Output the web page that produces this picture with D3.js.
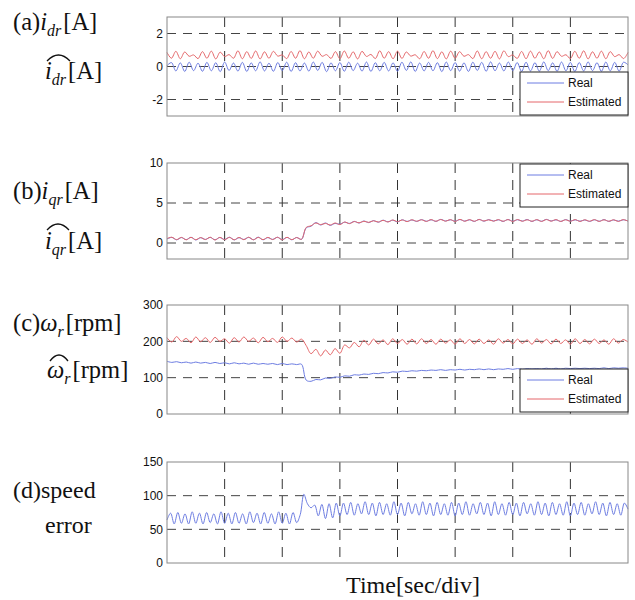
<!DOCTYPE html>
<html lang="en">
<head>
<meta charset="utf-8">
<title>Rotor current and speed estimation</title>
<script src="https://cdn.jsdelivr.net/npm/d3@7"></script>
<style>
  body { margin: 0; background: #fff; }
</style>
</head>
<body>
<svg id="chart" width="635" height="600"></svg>
<script>
  // (a) d-axis rotor current [A], 13 samples per division
  var idrReal = [0.05, 0.24, -0.27, 0.22, -0.3, 0.26, -0.25, 0.2, -0.29, 0.25, -0.26, 0.23, -0.31,
    0.27, -0.24, 0.21, -0.28, 0.25, -0.3, 0.22, -0.26, 0.28, -0.27, 0.2, -0.29, 0.24,
    -0.25, 0.26, -0.3, 0.23, -0.27, 0.21, -0.28, 0.27, -0.24, 0.25, -0.31, 0.22, -0.26,
    0.24, -0.29, 0.26, -0.25, 0.2, -0.28, 0.27, -0.3, 0.23, -0.26, 0.25, -0.27, 0.22,
    -0.29, 0.26, -0.24, 0.28, -0.3, 0.21, -0.27, 0.25, -0.26, 0.23, -0.31, 0.27, -0.25,
    0.24, -0.28, 0.22, -0.3, 0.26, -0.24, 0.25, -0.29, 0.28, -0.26, 0.21, -0.27, 0.27,
    -0.25, 0.24, -0.3, 0.26, -0.27, 0.23, -0.28, 0.28, -0.25, 0.22, -0.29, 0.27, -0.26,
    0.25, -0.3, 0.24, -0.27, 0.28, -0.25, 0.23, -0.29, 0.27, -0.26, 0.25, -0.28, 0.26, 0.1];
  var idrEst = [0.85, 0.5, 0.92, 0.47, 0.88, 0.62, 0.7, 0.48, 0.9, 0.5, 0.93, 0.46, 0.87,
    0.6, 0.72, 0.5, 0.95, 0.47, 0.9, 0.49, 0.94, 0.46, 0.89, 0.5, 0.92, 0.63,
    0.7, 0.48, 0.91, 0.5, 0.96, 0.47, 0.88, 0.5, 0.93, 0.62, 0.72, 0.49, 0.9,
    0.47, 0.94, 0.5, 0.89, 0.46, 0.92, 0.61, 0.73, 0.48, 0.95, 0.5, 0.9, 0.47,
    0.93, 0.49, 0.88, 0.63, 0.71, 0.47, 0.91, 0.5, 0.96, 0.48, 0.89, 0.46, 0.93,
    0.5, 0.9, 0.62, 0.72, 0.48, 0.94, 0.47, 0.9, 0.5, 0.92, 0.46, 0.95, 0.6,
    0.7, 0.49, 0.91, 0.47, 0.93, 0.5, 0.88, 0.47, 0.96, 0.49, 0.9, 0.62, 0.71,
    0.48, 0.92, 0.5, 0.95, 0.46, 0.89, 0.5, 0.93, 0.47, 0.9, 0.6, 0.72, 0.48, 0.85];

  // (b) q-axis rotor current [A], 12 samples per division
  var iqrReal = [0.5, 0.7, 0.4, 0.68, 0.42, 0.72, 0.38, 0.66, 0.45, 0.7, 0.4, 0.69,
    0.43, 0.72, 0.39, 0.67, 0.44, 0.7, 0.41, 0.73, 0.4, 0.68, 0.45, 0.71,
    0.42, 0.7, 0.4, 0.69, 0.45,
    1.9, 2.1, 2.55, 2.25, 2.5, 2.2, 2.45, 2.35, 2.6, 2.45, 2.7, 2.5,
    2.75, 2.55, 2.8, 2.6, 2.85, 2.65, 2.85, 2.65, 2.9, 2.7, 2.88, 2.7,
    2.92, 2.72, 2.9, 2.7, 2.95, 2.75, 2.9, 2.72, 2.93, 2.74, 2.9, 2.7,
    2.95, 2.73, 2.92, 2.75, 2.9, 2.7, 2.94, 2.72, 2.91, 2.74, 2.93, 2.7,
    2.9, 2.72, 2.95, 2.75, 2.9, 2.7, 2.92, 2.73, 2.9, 2.72, 2.88, 2.7,
    2.9, 2.72, 2.92, 2.7, 2.88, 2.73, 2.9, 2.75];
  var iqrEst = [0.55, 0.72, 0.42, 0.7, 0.4, 0.7, 0.41, 0.68, 0.43, 0.72, 0.38, 0.7,
    0.42, 0.7, 0.4, 0.69, 0.42, 0.72, 0.4, 0.7, 0.42, 0.7, 0.43, 0.72,
    0.4, 0.71, 0.42, 0.68, 0.47,
    1.95, 2.15, 2.5, 2.3, 2.45, 2.25, 2.5, 2.3, 2.62, 2.42, 2.68, 2.52,
    2.72, 2.58, 2.78, 2.62, 2.83, 2.63, 2.87, 2.67, 2.88, 2.68, 2.9, 2.72,
    2.9, 2.7, 2.92, 2.72, 2.93, 2.73, 2.92, 2.7, 2.95, 2.72, 2.92, 2.72,
    2.93, 2.75, 2.9, 2.73, 2.92, 2.72, 2.92, 2.7, 2.93, 2.72, 2.9, 2.72,
    2.92, 2.7, 2.93, 2.73, 2.92, 2.7, 2.9, 2.72, 2.92, 2.7, 2.9, 2.72,
    2.92, 2.7, 2.9, 2.72, 2.9, 2.7, 2.92, 2.73];

  // (c) rotor speed [rpm], 12 samples per division
  var wrReal = [145, 142, 144, 141, 143, 140, 143, 140, 142, 139, 142, 139,
    141, 138, 141, 138, 140, 137, 140, 137, 139, 137, 139, 136,
    139, 136, 138, 136, 137,
    93, 90, 95, 94, 99, 98, 102, 101, 105, 104, 108, 107,
    110, 109, 112, 111, 114, 113, 116, 115, 118, 117, 119, 118,
    120, 119, 121, 120, 122, 120, 122, 121, 123, 121, 123, 122,
    124, 122, 124, 122, 124, 123, 125, 123, 125, 123, 125, 124,
    125, 124, 126, 124, 126, 124, 126, 125, 126, 125, 126, 125,
    126, 125, 127, 125, 127, 126, 127, 126];
  var wrEst = [210, 198, 213, 200, 208, 196, 212, 199, 210, 197, 211, 200,
    207, 195, 210, 198, 212, 200, 209, 196, 211, 199, 208, 197,
    212, 200, 209, 198, 206,
    188, 166, 178, 160, 176, 163, 180, 167, 190, 182, 197, 185,
    203, 190, 206, 193, 204, 191, 207, 194, 205, 192, 206, 193,
    207, 194, 205, 192, 206, 195, 204, 192, 207, 194, 205, 193,
    206, 194, 204, 192, 207, 195, 205, 193, 206, 194, 204, 192,
    207, 195, 205, 193, 206, 194, 204, 192, 207, 194, 205, 193,
    206, 194, 204, 192, 207, 195, 205, 198];

  // (d) speed error, 16 samples per division
  var speedErr = [64, 74, 58, 75, 59, 73, 58, 76, 59, 74, 58, 75, 60, 73, 58, 76,
    59, 74, 58, 75, 59, 73, 58, 76, 60, 74, 58, 75, 59, 73, 58, 76,
    59, 74, 58, 75, 60, 72,
    102, 88, 82, 86, 70, 87, 66, 88, 67, 89,
    70, 89, 72, 90, 71, 88, 73, 91, 72, 89, 70, 90, 72, 88, 71, 91,
    72, 89, 70, 90, 73, 88, 71, 91, 72, 89, 70, 90, 72, 88, 71, 90,
    70, 89, 72, 91, 71, 88, 73, 90, 72, 89, 70, 91, 72, 88, 71, 90,
    72, 89, 70, 90, 73, 88, 71, 91, 72, 89, 70, 90, 72, 88, 71, 91,
    70, 89, 72, 90, 71, 88, 73, 91, 72, 89, 70, 90, 72, 88, 71, 89,
    80];

  var divisions = [1, 2, 3, 4, 5, 6, 7];
  var legendNames = ["Real", "Estimated"];
  var blue = "#6d7de2";
  var red = "#e5676a";

  var svg = d3.select("#chart");

  var x = d3.scaleLinear()
    .domain([0, 8])
    .range([167, 628]);

  var panels = [
    { top: 17, bottom: 116, domain: [-3, 3], ticks: [-2, 0, 2], grid: [-2, 0, 2],
      series: [{ values: idrReal, color: blue }, { values: idrEst, color: red }], legend: 72 },
    { top: 163, bottom: 259, domain: [-2, 10], ticks: [0, 5, 10], grid: [0, 5],
      series: [{ values: iqrReal, color: blue }, { values: iqrEst, color: red }], legend: 164 },
    { top: 305, bottom: 414, domain: [0, 300], ticks: [0, 100, 200, 300], grid: [100, 200],
      series: [{ values: wrReal, color: blue }, { values: wrEst, color: red }], legend: 369 },
    { top: 462, bottom: 563, domain: [0, 150], ticks: [0, 50, 100, 150], grid: [50, 100],
      series: [{ values: speedErr, color: blue }], legend: null }
  ];

  panels.forEach(drawPanel);

  function drawPanel(p) {
    var y = d3.scaleLinear()
      .domain(p.domain)
      .range([p.bottom, p.top]);

    var g = svg.append("g");

    // dashed grid
    g.selectAll(".hgrid")
      .data(p.grid)
      .enter().append("line")
      .attr("x1", x(0))
      .attr("x2", x(8))
      .attr("y1", function(d) { return y(d); })
      .attr("y2", function(d) { return y(d); })
      .attr("stroke", "#444")
      .attr("stroke-width", 1)
      .attr("stroke-dasharray", "9,7");

    g.selectAll(".vgrid")
      .data(divisions)
      .enter().append("line")
      .attr("x1", function(d) { return x(d); })
      .attr("x2", function(d) { return x(d); })
      .attr("y1", p.top)
      .attr("y2", p.bottom)
      .attr("stroke", "#333")
      .attr("stroke-width", 1)
      .attr("stroke-dasharray", "10,7");

    // signals
    p.series.forEach(function(s) {
      var t = d3.scaleLinear().domain([0, s.values.length - 1]).range([0, 8]);
      var line = d3.line()
        .x(function(d, i) { return x(t(i)); })
        .y(function(d) { return y(d); })
        .curve(d3.curveCatmullRom);
      g.append("path")
        .datum(s.values)
        .attr("d", line)
        .attr("fill", "none")
        .attr("stroke", s.color)
        .attr("stroke-width", 1);
    });

    // frame
    g.append("rect")
      .attr("x", x(0))
      .attr("y", p.top)
      .attr("width", x(8) - x(0))
      .attr("height", p.bottom - p.top)
      .attr("fill", "none")
      .attr("stroke", "#888")
      .attr("stroke-width", 1);

    // tick labels
    g.selectAll(".tick")
      .data(p.ticks)
      .enter().append("text")
      .attr("x", x(0) - 4)
      .attr("y", function(d) { return y(d); })
      .attr("dy", "0.36em")
      .attr("text-anchor", "end")
      .attr("font-family", "Liberation Sans, Arial, sans-serif")
      .attr("font-size", 12)
      .attr("fill", "#111")
      .text(function(d) { return d; });

    if (p.legend === null) return;

    var lg = g.append("g")
      .attr("transform", "translate(520," + p.legend + ")");
    lg.append("rect")
      .attr("width", 108)
      .attr("height", 43)
      .attr("fill", "#fff")
      .attr("stroke", "#222")
      .attr("stroke-width", 1);
    var item = lg.selectAll(".item")
      .data(legendNames)
      .enter().append("g")
      .attr("transform", function(d, i) { return "translate(0," + (11 + i * 19) + ")"; });
    item.append("line")
      .attr("x1", 7)
      .attr("x2", 44)
      .attr("stroke", function(d, i) { return i === 0 ? blue : red; })
      .attr("stroke-width", 1);
    item.append("text")
      .attr("x", 48)
      .attr("dy", "0.36em")
      .attr("font-family", "Liberation Sans, Arial, sans-serif")
      .attr("font-size", 12)
      .attr("fill", "#111")
      .text(function(d) { return d; });
  }

  // left-hand quantity labels
  var serif = "Liberation Serif, Times New Roman, serif";

  function quantity(xPos, yPos, prefix, symbol, sub, unit, hat) {
    var t = svg.append("text")
      .attr("x", xPos)
      .attr("y", yPos)
      .attr("font-family", serif)
      .attr("font-size", 24.5)
      .attr("fill", "#111");
    if (prefix) t.append("tspan").text(prefix);
    t.append("tspan").attr("font-style", "italic").text(symbol);
    t.append("tspan").attr("font-style", "italic").attr("font-size", 16).attr("dy", 6).text(sub);
    t.append("tspan").attr("dy", -6).attr("dx", 2).text(unit);
    if (hat) {
      svg.append("path")
        .attr("d", "M" + hat[0] + "," + hat[2] + " Q" + ((hat[0] + hat[1]) / 2) + "," + (hat[2] - 12) + " " + hat[1] + "," + hat[2])
        .attr("fill", "none")
        .attr("stroke", "#111")
        .attr("stroke-width", 1.3);
    }
  }

  quantity(13, 30, "(a)", "i", "dr", "[A]");
  quantity(45, 79, null, "i", "dr", "[A]", [47, 70, 61]);
  quantity(13, 199, "(b)", "i", "qr", "[A]");
  quantity(45, 249, null, "i", "qr", "[A]", [47, 69, 230]);
  quantity(13, 331, "(c)", "ω", "r", "[rpm]");
  quantity(47, 378, null, "ω", "r", "[rpm]", [50, 68, 361]);

  svg.append("text")
    .attr("x", 13).attr("y", 498)
    .attr("font-family", serif).attr("font-size", 24).attr("fill", "#111")
    .text("(d)speed");
  svg.append("text")
    .attr("x", 45).attr("y", 533)
    .attr("font-family", serif).attr("font-size", 24).attr("fill", "#111")
    .text("error");

  svg.append("text")
    .attr("x", 413).attr("y", 593)
    .attr("text-anchor", "middle")
    .attr("font-family", serif).attr("font-size", 24).attr("fill", "#111")
    .text("Time[sec/div]");
</script>
</body>
</html>
